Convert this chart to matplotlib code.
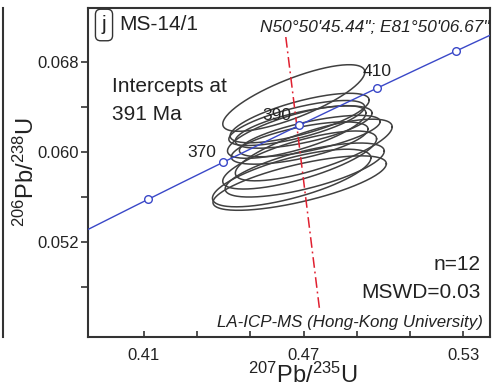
import numpy as np
import matplotlib.pyplot as plt
from matplotlib.lines import Line2D

plt.rcParams['font.family'] = ['Liberation Sans', 'DejaVu Sans']
plt.rcParams['mathtext.fontset'] = 'custom'
plt.rcParams['mathtext.rm'] = 'Liberation Sans'
plt.rcParams['mathtext.default'] = 'regular'

# spot analyses: 207Pb/235U, 206Pb/238U with 1 sigma errors and error correlation
pb207_u235 = [0.4663, 0.4685, 0.4674, 0.4700, 0.4674, 0.4723,
              0.4685, 0.4738, 0.4685, 0.4704, 0.4685, 0.4655]
s_207 = [0.01334, 0.01306, 0.01275, 0.01285, 0.0130, 0.01322,
         0.01285, 0.01473, 0.01445, 0.01494, 0.01628, 0.01488]
pb206_u238 = [0.06480, 0.06302, 0.06258, 0.06222, 0.06178, 0.06142,
              0.06080, 0.06018, 0.05929, 0.05840, 0.05724, 0.05769]
s_206 = [0.00148, 0.00110, 0.00100, 0.00094, 0.00117, 0.00092,
         0.00094, 0.00137, 0.00129, 0.00120, 0.00121, 0.00128]
rho = [0.78, 0.72, 0.72, 0.66, 0.72, 0.70,
       0.66, 0.75, 0.73, 0.70, 0.71, 0.70]

# concordia age marks (Ma)
marker_ages = [350, 370, 390, 410, 430]
label_ages = [370, 390, 410]

# discordia through the 391 Ma intercept
disc_x = [0.4633, 0.4760]
disc_y = [0.07022, 0.04596]

L238 = 1.55125e-10
L235 = 9.8485e-10


def concordia(t_ma):
    t = np.asarray(t_ma) * 1e6
    return np.exp(L235 * t) - 1, np.exp(L238 * t) - 1


fig = plt.figure(figsize=(4.92, 3.90), dpi=100)
ax = fig.add_axes([88 / 492, 53 / 390, 402 / 492, 329 / 390])

# concordia curve
tc = np.linspace(250, 500, 400)
cx, cy = concordia(tc)
ax.plot(cx, cy, color='#3a48c8', lw=1.0, zorder=3)
mx, my = concordia(marker_ages)
ax.plot(mx, my, 'o', ms=5.5, mfc='white', mec='#3a48c8', mew=1.0, zorder=4)

offsets = {370: (-21, 10), 390: (-22, 10), 410: (0, 17)}
for age in label_ages:
    x0, y0 = concordia(age)
    ax.annotate(str(age), (x0, y0), xytext=offsets[age], textcoords='offset pixels',
                ha='center', va='center', fontsize=12.5, color='#222222', zorder=5)

# 2 sigma error ellipses
t = np.linspace(0, 2 * np.pi, 200)
for x0, sx, y0, sy, r in zip(pb207_u235, s_207, pb206_u238, s_206, rho):
    ex = x0 + 2 * sx * np.cos(t)
    ey = y0 + 2 * sy * (r * np.cos(t) + np.sqrt(1 - r ** 2) * np.sin(t))
    ax.plot(ex, ey, color='#404040', lw=1.1, zorder=2)

ax.plot(disc_x, disc_y, color='#e02030', lw=1.1, dashes=(7, 2.5, 1.2, 2.5), zorder=3)

ax.set_xlim(0.389, 0.540)
ax.set_ylim(0.04356, 0.0728)

xt = [0.41, 0.43, 0.45, 0.47, 0.49, 0.51, 0.53]
ax.set_xticks(xt)
ax.set_xticklabels(['0.41', '', '', '0.47', '', '', '0.53'])
yt = [0.048, 0.052, 0.056, 0.060, 0.064, 0.068]
ax.set_yticks(yt)
ax.set_yticklabels(['', '0.052', '', '0.060', '', '0.068'])
ax.tick_params(axis='x', direction='in', length=4, width=1.2, pad=8,
               labelsize=12, color='#333333', labelcolor='#222222')
ax.tick_params(axis='y', direction='out', length=5, width=1.2, pad=1.5,
               labelsize=12, color='#333333', labelcolor='#222222')
for sp in ax.spines.values():
    sp.set_linewidth(1.5)
    sp.set_color('#333333')

ax.set_xlabel(r'$^{207}$Pb/$^{235}$U', fontsize=17, color='#222222')
ax.set_ylabel(r'$^{206}$Pb/$^{238}$U', fontsize=17, color='#222222')
ax.xaxis.set_label_coords(0.535, -0.078)
ax.yaxis.set_label_coords(-0.122, 0.5)

# annotations
fig.text(104 / 492, 1 - 25 / 390, 'j', fontsize=15, ha='center', va='center', color='#222222',
         bbox=dict(boxstyle='round,pad=0.3,rounding_size=0.25', fc='white', ec='#333333', lw=1.0))
fig.text(119 / 492, 1 - 24 / 390, 'MS-14/1', fontsize=15, ha='left', va='center', color='#222222')
fig.text(112 / 492, 1 - 87 / 390, 'Intercepts at', fontsize=15, ha='left', va='center', color='#222222')
fig.text(112 / 492, 1 - 115 / 390, '391 Ma', fontsize=15, ha='left', va='center', color='#222222')
fig.text(489 / 492, 1 - 27 / 390, 'N50°50\'45.44"; E81°50\'06.67"', fontsize=12.4, style='italic',
         ha='right', va='center', color='#222222')
fig.text(481 / 492, 1 - 265 / 390, 'n=12', fontsize=15, ha='right', va='center', color='#222222')
fig.text(481 / 492, 1 - 293 / 390, 'MSWD=0.03', fontsize=15, ha='right', va='center', color='#222222')
fig.text(483 / 492, 1 - 322 / 390, 'LA-ICP-MS (Hong-Kong University)', fontsize=12.2, style='italic',
         ha='right', va='center', color='#222222')

# edge of the neighbouring panel
fig.add_artist(Line2D([2.5 / 492, 2.5 / 492], [1 - 8 / 390, 1 - 337 / 390],
                      transform=fig.transFigure, color='#333333', lw=1.5))

fig.savefig('out.png', dpi=100)
